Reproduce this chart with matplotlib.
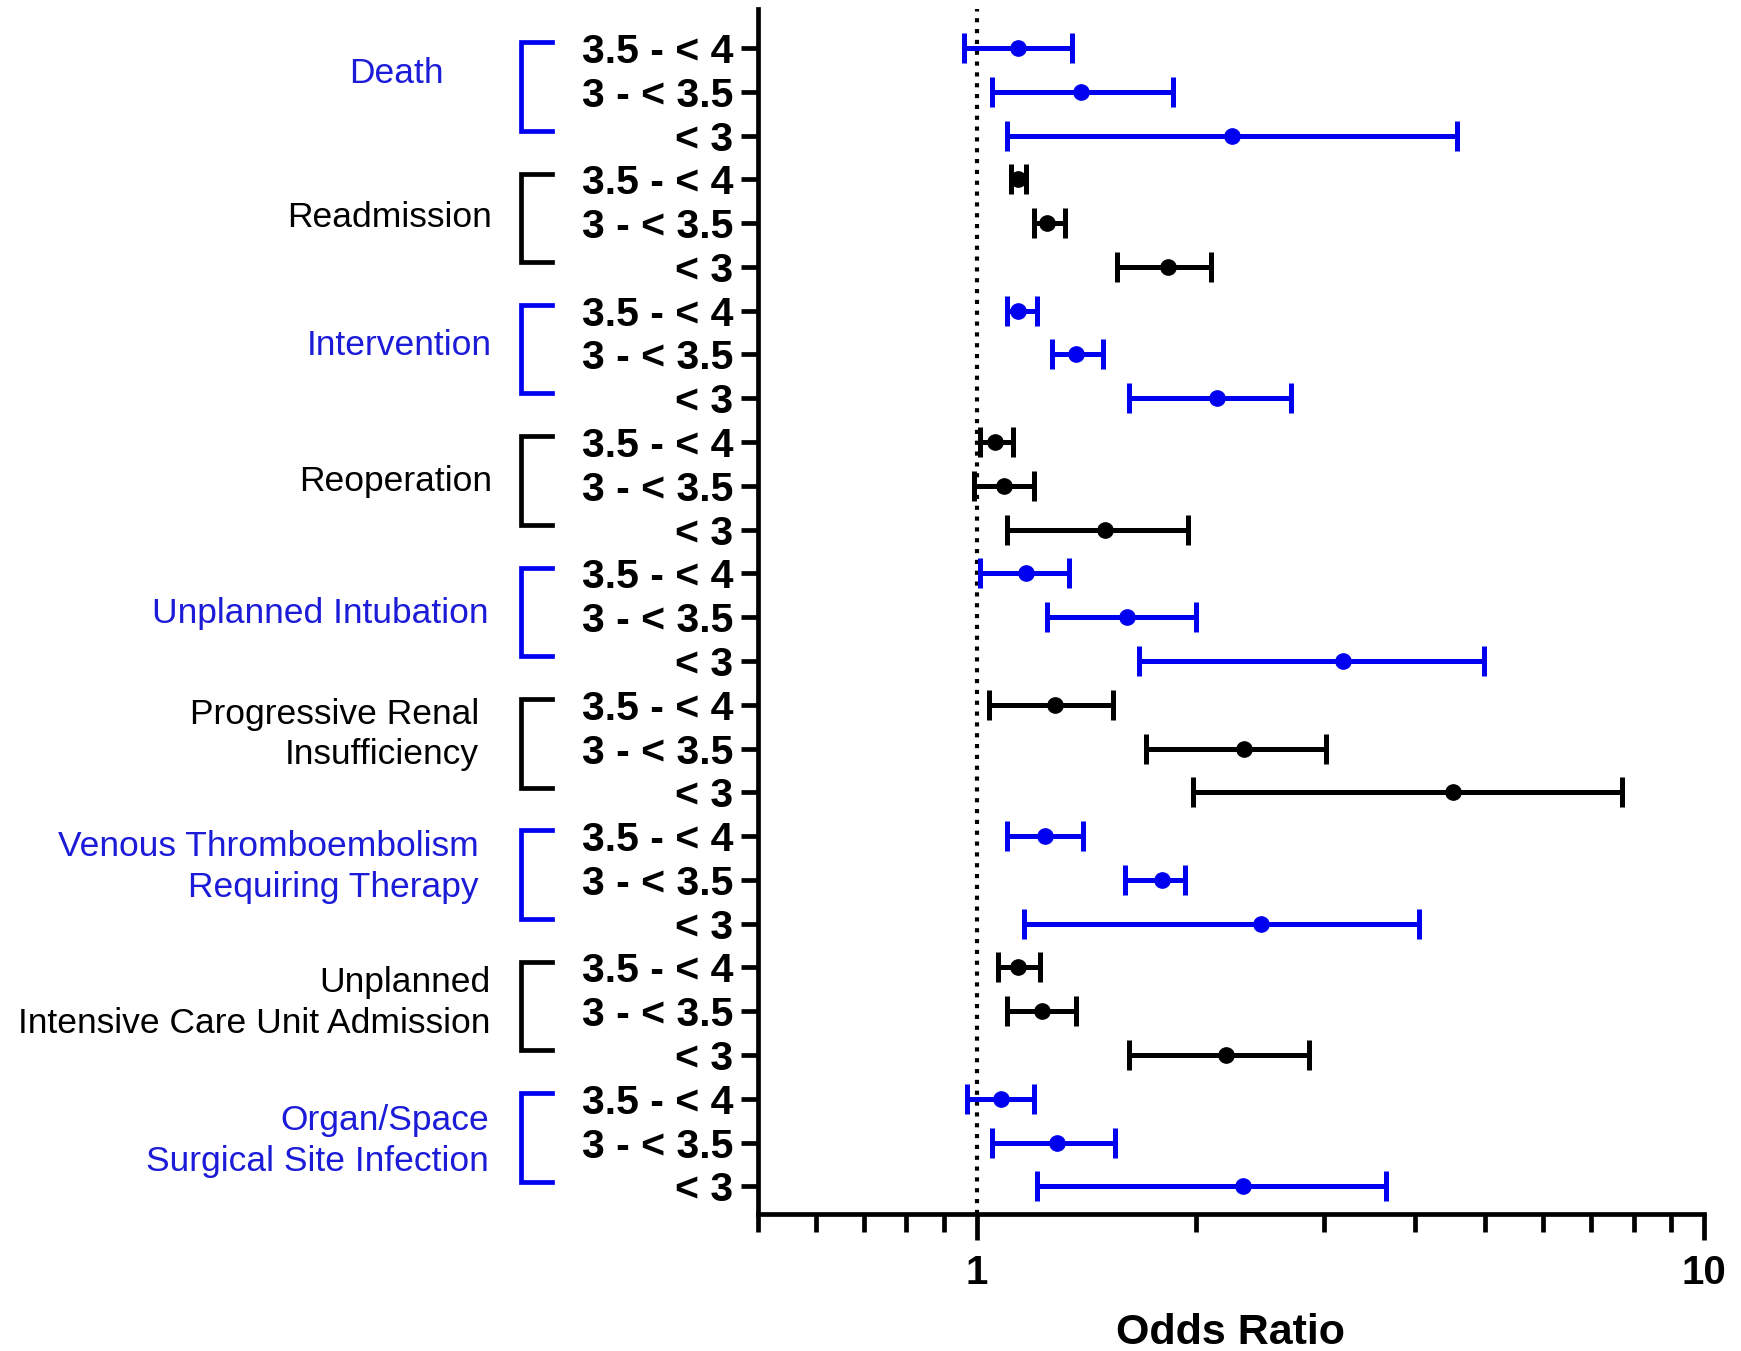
import matplotlib
matplotlib.use("Agg")
import matplotlib.pyplot as plt
import matplotlib.transforms as mtransforms
from matplotlib.lines import Line2D
import numpy as np

# ---------------- data ----------------
outcomes = ["Death", "Readmission", "Intervention", "Reoperation",
            "Unplanned Intubation", "Progressive Renal\nInsufficiency",
            "Venous Thromboembolism\nRequiring Therapy",
            "Unplanned\nIntensive Care Unit Admission",
            "Organ/Space\nSurgical Site Infection"]
albumin_levels = ["3.5 - < 4", "3 - < 3.5", "< 3"]

or_death = [1.14, 1.39, 2.24]
lo_death = [0.96, 1.05, 1.10]
hi_death = [1.35, 1.86, 4.57]

or_readm = [1.14, 1.25, 1.83]
lo_readm = [1.115, 1.20, 1.56]
hi_readm = [1.17, 1.32, 2.10]

or_interv = [1.14, 1.37, 2.14]
lo_interv = [1.10, 1.27, 1.62]
hi_interv = [1.21, 1.49, 2.70]

or_reop = [1.06, 1.09, 1.50]
lo_reop = [1.01, 0.99, 1.10]
hi_reop = [1.12, 1.20, 1.95]

or_intub = [1.17, 1.61, 3.19]
lo_intub = [1.01, 1.25, 1.67]
hi_intub = [1.34, 2.00, 4.99]

or_renal = [1.28, 2.33, 4.52]
lo_renal = [1.04, 1.71, 1.98]
hi_renal = [1.54, 3.02, 7.71]

or_vte = [1.24, 1.80, 2.46]
lo_vte = [1.10, 1.60, 1.16]
hi_vte = [1.40, 1.93, 4.06]

or_icu = [1.14, 1.23, 2.20]
lo_icu = [1.07, 1.10, 1.62]
hi_icu = [1.22, 1.37, 2.86]

or_ssi = [1.08, 1.29, 2.32]
lo_ssi = [0.97, 1.05, 1.21]
hi_ssi = [1.20, 1.55, 3.65]

or_all = [or_death, or_readm, or_interv, or_reop, or_intub, or_renal, or_vte, or_icu, or_ssi]
lo_all = [lo_death, lo_readm, lo_interv, lo_reop, lo_intub, lo_renal, lo_vte, lo_icu, lo_ssi]
hi_all = [hi_death, hi_readm, hi_interv, hi_reop, hi_intub, hi_renal, hi_vte, hi_icu, hi_ssi]

x_major = [1, 10]
x_major_labels = ["1", "10"]
x_minor = [0.5, 0.6, 0.7, 0.8, 0.9, 2, 3, 4, 5, 6, 7, 8, 9]

# ---------------- style / layout ----------------
BLUE = "#0000F0"
BLUE_TXT = "#1C1CD8"
colors = [BLUE if i % 2 == 0 else "black" for i in range(len(outcomes))]
txt_colors = [BLUE_TXT if i % 2 == 0 else "black" for i in range(len(outcomes))]
label_row_offset = [0.58, 0.88, 0.79, 0.89, 0.91, 0.68, 0.70, 0.82, 0.97]
label_x_px = [396, 492, 492, 492, 489, 479, 479, 490, 489]
label_ha = ["center"] + ["right"] * 8

plt.rcParams["font.family"] = ["Liberation Sans", "DejaVu Sans"]

W, H = 1741, 1351
fig = plt.figure(figsize=(W / 100, H / 100), dpi=100)
ax = fig.add_axes([758 / W, 1 - 1214 / H, (1704 - 758) / W, (1214 - 9) / H])

n_lev = len(albumin_levels)
for g in range(len(outcomes)):
    ys = np.arange(n_lev) + g * n_lev
    orv = np.array(or_all[g]); lo = np.array(lo_all[g]); hi = np.array(hi_all[g])
    ax.errorbar(orv, ys, xerr=[orv - lo, hi - orv], fmt="o", color=colors[g],
                ecolor=colors[g], markersize=11, elinewidth=3.6, capsize=11,
                capthick=3.6, zorder=3)

ax.axvline(1, color="black", linestyle=(0, (1, 1.6)), linewidth=3, zorder=1)

ax.set_xscale("log")
ax.set_xlim(0.5, 10)
n_rows = n_lev * len(outcomes)
ax.set_ylim(n_rows - 1 + 0.63, -0.89)

ax.set_xticks(x_major)
ax.set_xticklabels(x_major_labels)
ax.set_xticks(x_minor, minor=True)
ax.set_xticklabels([], minor=True)
ax.set_yticks(np.arange(n_rows))
ax.set_yticklabels(albumin_levels * len(outcomes))

for s in ["top", "right"]:
    ax.spines[s].set_visible(False)
for s in ["left", "bottom"]:
    ax.spines[s].set_linewidth(3.4)

ax.tick_params(axis="y", which="major", length=12, width=3.4, labelsize=29.5, pad=6)
ax.tick_params(axis="x", which="major", length=19, width=3.4, labelsize=29, pad=10)
ax.tick_params(axis="x", which="minor", length=13, width=3.4)
for lbl in ax.get_yticklabels() + ax.get_xticklabels():
    lbl.set_fontweight("bold")

ax.set_xlabel("Odds Ratio", fontsize=31, fontweight="bold", labelpad=15)

# group labels and brackets
trans = mtransforms.blended_transform_factory(fig.transFigure, ax.transData)
bx0, bx1 = 521 / W, 552 / W
for g, name in enumerate(outcomes):
    r0 = g * n_lev
    top = r0 - 0.13
    bot = r0 + 1.89
    line = Line2D([bx1, bx0, bx0, bx1], [top, top, bot, bot], transform=trans,
                  color=colors[g], linewidth=3.4, clip_on=False,
                  solid_joinstyle="miter")
    fig.add_artist(line)
    fig.text(label_x_px[g] / W, r0 + label_row_offset[g], name, transform=trans,
             ha=label_ha[g], va="center", multialignment="right",
             fontsize=25.5, color=txt_colors[g], linespacing=1.3)

fig.savefig("out.png", dpi=100, facecolor="white")
